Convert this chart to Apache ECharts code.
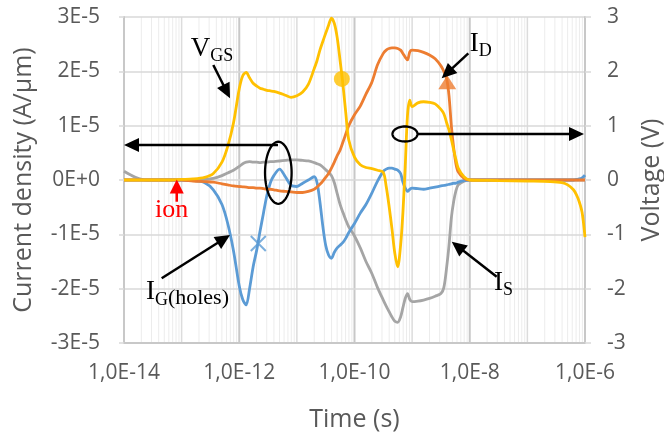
<!DOCTYPE html>
<html><head><meta charset="utf-8">
<script src="https://cdn.jsdelivr.net/npm/echarts@6/dist/echarts.min.js"></script>
<style>html,body{margin:0;padding:0;background:#fff}#c{width:664px;height:434px}</style>
</head><body><div id="c"></div>
<script>
// ---- data (time in s, currents in A/µm, voltage in V) ----
const time = [1e-14,1.58e-14,2.51e-14,3.98e-14,6.31e-14,1e-13,1.58e-13,2.51e-13,3.55e-13,5.01e-13,6.31e-13,7.94e-13,
  1e-12,1.15e-12,1.32e-12,1.51e-12,1.74e-12,2e-12,2.29e-12,2.63e-12,3.02e-12,3.47e-12,3.98e-12,5.01e-12,6.31e-12,7.94e-12,
  1e-11,1.26e-11,1.58e-11,2e-11,2.24e-11,2.51e-11,2.82e-11,3.16e-11,3.55e-11,3.98e-11,4.47e-11,5.01e-11,5.62e-11,6.31e-11,7.08e-11,7.94e-11,
  1e-10,1.26e-10,1.58e-10,2e-10,2.51e-10,3.16e-10,3.55e-10,3.98e-10,4.47e-10,5.01e-10,5.62e-10,6.31e-10,6.92e-10,7.59e-10,8.32e-10,9.12e-10,
  1e-9,1.26e-9,1.58e-9,2e-9,2.51e-9,3.16e-9,3.55e-9,3.98e-9,4.37e-9,4.79e-9,5.25e-9,5.75e-9,6.31e-9,7.94e-9,
  1e-8,3.16e-8,1e-7,2.51e-7,3.98e-7,5.01e-7,6.31e-7,7.08e-7,7.94e-7,8.91e-7,1e-6];
const vgs = [0,0,0,0,0,0.01,0.02,0.05,0.12,0.33,0.62,1.05,
  1.68,1.92,1.98,1.88,1.78,1.73,1.69,1.67,1.65,1.64,1.63,1.6,1.56,1.52,
  1.55,1.62,1.76,2.05,2.2,2.39,2.55,2.7,2.85,2.98,2.88,2.62,2.2,1.75,1.22,0.74,
  0.42,0.28,0.23,0.21,0.18,0.14,-0.12,-0.48,-0.9,-1.35,-1.6,-1.2,-0.6,0.25,1.2,1.47,
  1.35,1.42,1.44,1.43,1.4,1.3,1.22,1.05,0.92,0.75,0.56,0.38,0.22,0.06,
  0,-0.01,-0.02,-0.03,-0.05,-0.09,-0.18,-0.27,-0.4,-0.6,-1.05];
const iD = [0,0,0,0,0,0,-0.02e-5,-0.03e-5,-0.04e-5,-0.07e-5,-0.09e-5,-0.11e-5,
  -0.12e-5,-0.125e-5,-0.13e-5,-0.14e-5,-0.14e-5,-0.15e-5,-0.15e-5,-0.16e-5,-0.17e-5,-0.17e-5,-0.18e-5,-0.2e-5,-0.21e-5,-0.22e-5,
  -0.23e-5,-0.23e-5,-0.21e-5,-0.17e-5,-0.13e-5,-0.08e-5,-0.02e-5,0.05e-5,0.12e-5,0.22e-5,0.33e-5,0.45e-5,0.55e-5,0.7e-5,0.85e-5,1.0e-5,
  1.2e-5,1.36e-5,1.58e-5,1.8e-5,2.12e-5,2.33e-5,2.39e-5,2.42e-5,2.43e-5,2.43e-5,2.42e-5,2.39e-5,2.33e-5,2.26e-5,2.21e-5,2.36e-5,
  2.39e-5,2.38e-5,2.35e-5,2.3e-5,2.23e-5,2.1e-5,2.0e-5,1.86e-5,1.55e-5,1.0e-5,0.6e-5,0.3e-5,0.15e-5,0.03e-5,
  0,0,0,0,0,0,0,0,0,0,0];
const iGholes = [0,0,0,0,0,0,-0.01e-5,-0.05e-5,-0.18e-5,-0.45e-5,-0.8e-5,-1.3e-5,
  -1.95e-5,-2.2e-5,-2.3e-5,-2.0e-5,-1.6e-5,-1.3e-5,-0.95e-5,-0.61e-5,-0.28e-5,-0.05e-5,0.08e-5,0.2e-5,0.06e-5,-0.1e-5,
  -0.12e-5,-0.06e-5,0,0.06e-5,-0.05e-5,-0.4e-5,-0.85e-5,-1.2e-5,-1.38e-5,-1.44e-5,-1.33e-5,-1.25e-5,-1.2e-5,-1.15e-5,-1.07e-5,-0.97e-5,
  -0.8e-5,-0.61e-5,-0.45e-5,-0.24e-5,-0.02e-5,0.16e-5,0.2e-5,0.22e-5,0.22e-5,0.2e-5,0.18e-5,0.12e-5,-0.04e-5,-0.15e-5,-0.21e-5,-0.17e-5,
  -0.15e-5,-0.16e-5,-0.17e-5,-0.15e-5,-0.13e-5,-0.11e-5,-0.1e-5,-0.09e-5,-0.08e-5,-0.07e-5,-0.06e-5,-0.06e-5,-0.04e-5,-0.01e-5,
  0,0,0,0,0,0,0,0.01e-5,0.02e-5,0.04e-5,0.09e-5];
const iS = [0.16e-5,0.05e-5,0,0,0,0,0,0.01e-5,0.03e-5,0.08e-5,0.13e-5,0.18e-5,
  0.25e-5,0.3e-5,0.33e-5,0.34e-5,0.33e-5,0.33e-5,0.32e-5,0.33e-5,0.33e-5,0.34e-5,0.34e-5,0.35e-5,0.36e-5,0.37e-5,
  0.37e-5,0.36e-5,0.35e-5,0.32e-5,0.3e-5,0.28e-5,0.24e-5,0.19e-5,0.14e-5,0.08e-5,-0.05e-5,-0.25e-5,-0.45e-5,-0.6e-5,-0.74e-5,-0.86e-5,
  -1.03e-5,-1.25e-5,-1.5e-5,-1.72e-5,-1.98e-5,-2.21e-5,-2.32e-5,-2.42e-5,-2.52e-5,-2.6e-5,-2.62e-5,-2.52e-5,-2.35e-5,-2.18e-5,-2.09e-5,-2.2e-5,
  -2.24e-5,-2.23e-5,-2.21e-5,-2.18e-5,-2.14e-5,-2.09e-5,-1.98e-5,-1.6e-5,-1.2e-5,-0.7e-5,-0.4e-5,-0.2e-5,-0.09e-5,-0.02e-5,
  0,0,0,0,0,0,0,0,0,0,0];
// single-point markers
const markIG = [[2.14e-12, -1.17e-5]];
const markVGS = [[6.03e-11, 1.86]];
const markID = [[4.07e-9, 1.8e-5]];
// tick labels
const xTickExp = [-14, -12, -10, -8, -6];
const xTickText = ['1,0E-14', '1,0E-12', '1,0E-10', '1,0E-8', '1,0E-6'];
const yLeftText = ['-3E-5', '-2E-5', '-1E-5', '0E+0', '1E-5', '2E-5', '3E-5'];
const yRightText = ['-3', '-2', '-1', '0', '1', '2', '3'];

// ---- chart ----
const zip = (xs, ys) => xs.map((x, i) => [x, ys[i]]);
const FONT = 'Open Sans';
const AX = '#595959';
const chart = echarts.init(document.getElementById('c'), null, {renderer: 'canvas'});

const lineCommon = {type: 'line', showSymbol: false, smooth: 0.3, lineStyle: {width: 2.8}, emphasis: {disabled: true}};

chart.setOption({
  animation: false,
  grid: {left: 124, right: 79, top: 17, bottom: 91, containLabel: false, outerBoundsMode: 'none'},
  xAxis: {
    type: 'log', logBase: 10, min: 1e-14, max: 1e-6, splitNumber: 8,
    axisLine: {show: true, onZero: false, lineStyle: {color: '#c8c8c8', width: 2}},
    axisTick: {show: false}, splitLine: {show: false},
    axisLabel: {
      interval: 0, hideOverlap: false, color: AX, fontFamily: FONT, fontSize: 21, margin: 20,
      formatter: v => { const e = Math.round(Math.log10(v)); const i = xTickExp.indexOf(e); return i >= 0 ? xTickText[i] : ''; }
    },
    name: 'Time (s)', nameLocation: 'middle', nameGap: 64,
    nameTextStyle: {color: AX, fontFamily: FONT, fontSize: 25}
  },
  yAxis: [{
    type: 'value', min: -3e-5, max: 3e-5, interval: 1e-5, position: 'left',
    axisLine: {show: true, onZero: false, lineStyle: {color: '#c8c8c8', width: 2}},
    axisTick: {show: true, length: 5, lineStyle: {color: '#d9d9d9', width: 1.5}},
    splitLine: {show: true, lineStyle: {color: '#d9d9d9', width: 1.5}},
    axisLabel: {color: AX, fontFamily: FONT, fontSize: 21, margin: 24,
      formatter: v => yLeftText[Math.round(v * 1e5) + 3]},
    name: 'Current density (A/µm)', nameLocation: 'middle', nameGap: 88, nameRotate: 90,
    nameTextStyle: {color: AX, fontFamily: FONT, fontSize: 25}
  }, {
    type: 'value', min: -3, max: 3, interval: 1, position: 'right',
    axisLine: {show: true, onZero: false, lineStyle: {color: '#c8c8c8', width: 2}},
    axisTick: {show: true, length: 6, lineStyle: {color: '#d9d9d9', width: 1.5}},
    splitLine: {show: false},
    axisLabel: {color: AX, fontFamily: FONT, fontSize: 21, margin: 22,
      formatter: v => yRightText[Math.round(v) + 3]},
    name: 'Voltage (V)', nameLocation: 'middle', nameGap: 54, nameRotate: 90,
    nameTextStyle: {color: AX, fontFamily: FONT, fontSize: 25}
  }],
  series: [
    Object.assign({}, lineCommon, {name: 'I_S', yAxisIndex: 0, z: 3, data: zip(time, iS), itemStyle: {color: '#A5A5A5'}}),
    Object.assign({}, lineCommon, {name: 'I_G(holes)', yAxisIndex: 0, z: 4, data: zip(time, iGholes), itemStyle: {color: '#5B9BD5'}}),
    Object.assign({}, lineCommon, {name: 'I_D', yAxisIndex: 0, z: 5, data: zip(time, iD), itemStyle: {color: '#ED7D31'}}),
    Object.assign({}, lineCommon, {name: 'V_GS', yAxisIndex: 1, z: 6, data: zip(time, vgs), itemStyle: {color: '#FFC000'}}),
    {type: 'scatter', yAxisIndex: 0, z: 7, data: markIG, symbol: 'path://M0,0L10,10M10,0L0,10', symbolSize: 15,
     itemStyle: {color: 'rgba(0,0,0,0)', borderColor: '#5B9BD5', borderWidth: 2}},
    {type: 'scatter', yAxisIndex: 1, z: 7, data: markVGS, symbol: 'circle', symbolSize: 16, itemStyle: {color: '#FFC000'}},
    {type: 'scatter', yAxisIndex: 0, z: 7, data: markID, symbol: 'triangle', symbolSize: [18, 14], itemStyle: {color: '#ED7D31'}}
  ]
});

// ---- log-scale vertical grid (decades + 2..9 minors), placed through the x axis ----
const XP = t => chart.convertToPixel({xAxisIndex: 0}, t);
const gridTop = chart.convertToPixel({yAxisIndex: 0}, 3e-5);
const gridBot = chart.convertToPixel({yAxisIndex: 0}, -3e-5);
const g = [];
for (let n = -14; n <= -7; n++) {
  for (let k = 1; k <= 9; k++) {
    if (n === -14 && k === 1) continue;
    const x = XP(k * Math.pow(10, n));
    let stroke = '#ececec', lw = 1;
    if (k === 1 && n % 2 === 0) { stroke = '#c8c8c8'; lw = 2; }
    else if (k === 1) { stroke = '#dcdcdc'; lw = 1.5; }
    g.push({type: 'line', z: -1, silent: true, shape: {x1: x, y1: gridTop, x2: x, y2: gridBot}, style: {stroke: stroke, lineWidth: lw}});
  }
}

// ---- annotations, anchored in data space (log10 time, current in 1E-5 A/µm) ----
const P = (e, v) => chart.convertToPixel({xAxisIndex: 0, yAxisIndex: 0}, [Math.pow(10, e), v * 1e-5]);
function arrow(a, b, color, L, w, lw) {
  const dx = b[0] - a[0], dy = b[1] - a[1], len = Math.hypot(dx, dy);
  const ux = dx / len, uy = dy / len;
  const base = [b[0] - ux * L, b[1] - uy * L];
  return [
    {type: 'line', z: 20, shape: {x1: a[0], y1: a[1], x2: base[0] + ux, y2: base[1] + uy}, style: {stroke: color, lineWidth: lw}},
    {type: 'polygon', z: 20, shape: {points: [b, [base[0] - uy * w, base[1] + ux * w], [base[0] + uy * w, base[1] - ux * w]]}, style: {fill: color}}
  ];
}
function ellipse(c, rx, ry) {
  const pts = [];
  for (let i = 0; i < 64; i++) { const t = i / 64 * Math.PI * 2; pts.push([c[0] + rx * Math.cos(t), c[1] + ry * Math.sin(t)]); }
  return {type: 'polygon', z: 20, shape: {points: pts}, style: {fill: 'none', stroke: '#000', lineWidth: 2.3}};
}
function label(p, text, rich) {
  return {type: 'text', z: 21, x: p[0], y: p[1], style: {text: text, rich: rich, fill: '#000'}};
}
const serif = 'Liberation Serif';
const big = {fontFamily: serif, fontSize: 27, fill: '#000', verticalAlign: 'bottom'};
const sub = {fontFamily: serif, fontSize: 18, fill: '#000', verticalAlign: 'bottom', padding: [0, 0, -3, 0]};
const mid = {fontFamily: serif, fontSize: 22, fill: '#000', verticalAlign: 'bottom', padding: [0, 0, -3, 0]};

g.push(...arrow(P(-12.45, 2.117), P(-12.16, 1.504), '#000', 15, 7, 2.5));
g.push(...arrow(P(-8.025, 2.332), P(-8.487, 1.872), '#000', 15, 7, 2.5));
g.push(...arrow(P(-13.346, -1.809), P(-12.16, -1.012), '#000', 15, 7, 2.5));
g.push(...arrow(P(-7.532, -1.78), P(-8.313, -1.136), '#000', 15, 7, 2.5));
g.push(...arrow(P(-11.328, 0.644), P(-14, 0.644), '#000', 15, 7, 2.5));
g.push(...arrow(P(-8.898, 0.847), P(-6.017, 0.847), '#000', 15, 7, 2.5));
g.push(...arrow(P(-13.085, -0.4), P(-13.085, 0.01), '#ff0000', 14, 7, 2.5));
g.push(ellipse(P(-11.322, 0.133), 13.3, 31));
g.push(ellipse(P(-9.124, 0.847), 12.5, 7.5));
g.push(label(P(-12.84, 2.66), '{a|V}{b|GS}', {a: big, b: sub}));
g.push(label(P(-8.0, 2.76), '{a|I}{b|D}', {a: big, b: sub}));
g.push(label(P(-13.62, -1.82), '{a|I}{b|G}{c|(holes)}', {a: big, b: sub, c: mid}));
g.push(label(P(-7.58, -1.64), '{a|I}{b|S}', {a: big, b: sub}));
g.push(label(P(-13.46, -0.32), '{a|ion}', {a: {fontFamily: serif, fontSize: 26, fill: '#ff0000'}}));
chart.setOption({graphic: {elements: g}});
</script>
</body></html>
